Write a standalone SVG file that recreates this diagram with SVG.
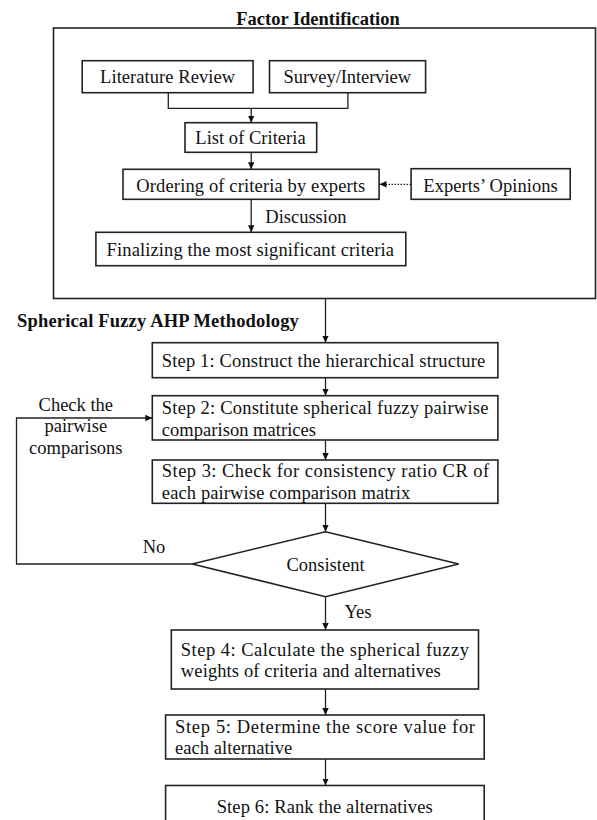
<svg xmlns="http://www.w3.org/2000/svg" width="597" height="820" viewBox="0 0 597 820">
<style>
.box{fill:#fff;stroke:#222;stroke-width:1.6}
.ln{fill:none;stroke:#222;stroke-width:1.3}
.dot{fill:none;stroke:#222;stroke-width:1.3;stroke-dasharray:1.5 1.5}
text{font-family:"Liberation Serif","Times New Roman",serif;font-size:18.5px;fill:#111}
.b{font-weight:bold}
.c{text-anchor:middle}
</style>
<defs>
<marker id="ah" markerWidth="8" markerHeight="8" refX="7" refY="4" orient="auto" markerUnits="userSpaceOnUse">
<path d="M0,0.8 L7,4 L0,7.2 Z" fill="#111"/>
</marker>
</defs>
<rect width="597" height="820" fill="#fff"/>

<g id="factor-identification">
<rect class="box" x="53.5" y="28" width="542" height="270.5"/>
<text class="b c" x="318" y="25">Factor Identification</text>
</g>

<g id="literature-review">
<rect class="box" x="82.2" y="60.7" width="170.9" height="32"/>
<text x="100.1" y="83.3" textLength="135">Literature Review</text>
</g>
<g id="survey-interview">
<rect class="box" x="269.5" y="60.7" width="156.1" height="32"/>
<text x="283.6" y="83.3" textLength="127.5">Survey/Interview</text>
</g>
<g id="list-of-criteria">
<rect class="box" x="185" y="122.7" width="131.7" height="29.6"/>
<text x="195.3" y="144" textLength="110.4">List of Criteria</text>
</g>
<g id="ordering">
<rect class="box" x="123" y="169.3" width="256.1" height="30"/>
<text x="136.3" y="191.7" textLength="229">Ordering of criteria by experts</text>
</g>
<g id="experts-opinions">
<rect class="box" x="411.1" y="168.7" width="159.1" height="30.6"/>
<text x="423.3" y="191.7" textLength="134.4">Experts’ Opinions</text>
</g>
<g id="finalizing">
<rect class="box" x="95.9" y="232.3" width="309.9" height="33.4"/>
<text x="106.6" y="256" textLength="287.4">Finalizing the most significant criteria</text>
</g>

<text class="b" x="17.1" y="327" textLength="281.7">Spherical Fuzzy AHP Methodology</text>

<g id="step1">
<rect class="box" x="152.3" y="342.7" width="345.6" height="35"/>
<text x="161.8" y="366.7" textLength="323.5">Step 1: Construct the hierarchical structure</text>
</g>
<g id="step2">
<rect class="box" x="152.3" y="395.7" width="345.6" height="44.3"/>
<text x="161.8" y="414.3" textLength="326.6">Step 2: Constitute spherical fuzzy pairwise</text>
<text x="161.8" y="436" textLength="154.2">comparison matrices</text>
</g>
<g id="step3">
<rect class="box" x="152.3" y="460" width="345.6" height="43.3"/>
<text x="161.8" y="477" textLength="327.4">Step 3: Check for consistency ratio CR of</text>
<text x="161.8" y="499" textLength="248.5">each pairwise comparison matrix</text>
</g>
<g id="consistent">
<polygon class="box" points="325.5,531.7 458.7,564 325.5,596.7 192.2,564"/>
<text class="c" x="325.5" y="570.7">Consistent</text>
</g>
<g id="step4">
<rect class="box" x="171.3" y="630" width="307.2" height="59"/>
<text x="180.8" y="656" textLength="288.2">Step 4: Calculate the spherical fuzzy</text>
<text x="180.8" y="677.3" textLength="260">weights of criteria and alternatives</text>
</g>
<g id="step5">
<rect class="box" x="165.6" y="715" width="318.6" height="44"/>
<text x="175.1" y="732.7" textLength="299.9">Step 5: Determine the score value for</text>
<text x="175.1" y="754.3" textLength="117.2">each alternative</text>
</g>
<g id="step6">
<rect class="box" x="165.6" y="785.5" width="318.6" height="50"/>
<text x="216.7" y="813.3" textLength="216">Step 6: Rank the alternatives</text>
</g>

<g id="connectors">
<polyline class="ln" points="168.3,92.7 168.3,108.3 347.9,108.3 347.9,92.7"/>
<line class="ln" x1="251.2" y1="108.3" x2="251.2" y2="122.7" marker-end="url(#ah)"/>
<line class="ln" x1="251.2" y1="152.3" x2="251.2" y2="169.3" marker-end="url(#ah)"/>
<line class="dot" x1="411" y1="184.3" x2="379.5" y2="184.3" marker-end="url(#ah)"/>
<line class="ln" x1="251.2" y1="199.3" x2="251.2" y2="232.3" marker-end="url(#ah)"/>
<line class="ln" x1="325.5" y1="298.5" x2="325.5" y2="342.7" marker-end="url(#ah)"/>
<line class="ln" x1="325.5" y1="377.7" x2="325.5" y2="395.7" marker-end="url(#ah)"/>
<line class="ln" x1="325.5" y1="440" x2="325.5" y2="460" marker-end="url(#ah)"/>
<line class="ln" x1="325.5" y1="503.3" x2="325.5" y2="531.7" marker-end="url(#ah)"/>
<polyline class="ln" points="192.2,564 16.5,564 16.5,418 152.3,418" marker-end="url(#ah)"/>
<line class="ln" x1="325.5" y1="596.7" x2="325.5" y2="630" marker-end="url(#ah)"/>
<line class="ln" x1="325.5" y1="689" x2="325.5" y2="715" marker-end="url(#ah)"/>
<line class="ln" x1="325.5" y1="759" x2="325.5" y2="785.5" marker-end="url(#ah)"/>
<text x="265.3" y="222.7" textLength="81.1">Discussion</text>
<text class="c" x="75.8" y="410.7">Check the</text>
<text class="c" x="75.8" y="431.7">pairwise</text>
<text class="c" x="75.8" y="454">comparisons</text>
<text x="142.7" y="553.3">No</text>
<text x="344.5" y="618">Yes</text>
</g>
</svg>
